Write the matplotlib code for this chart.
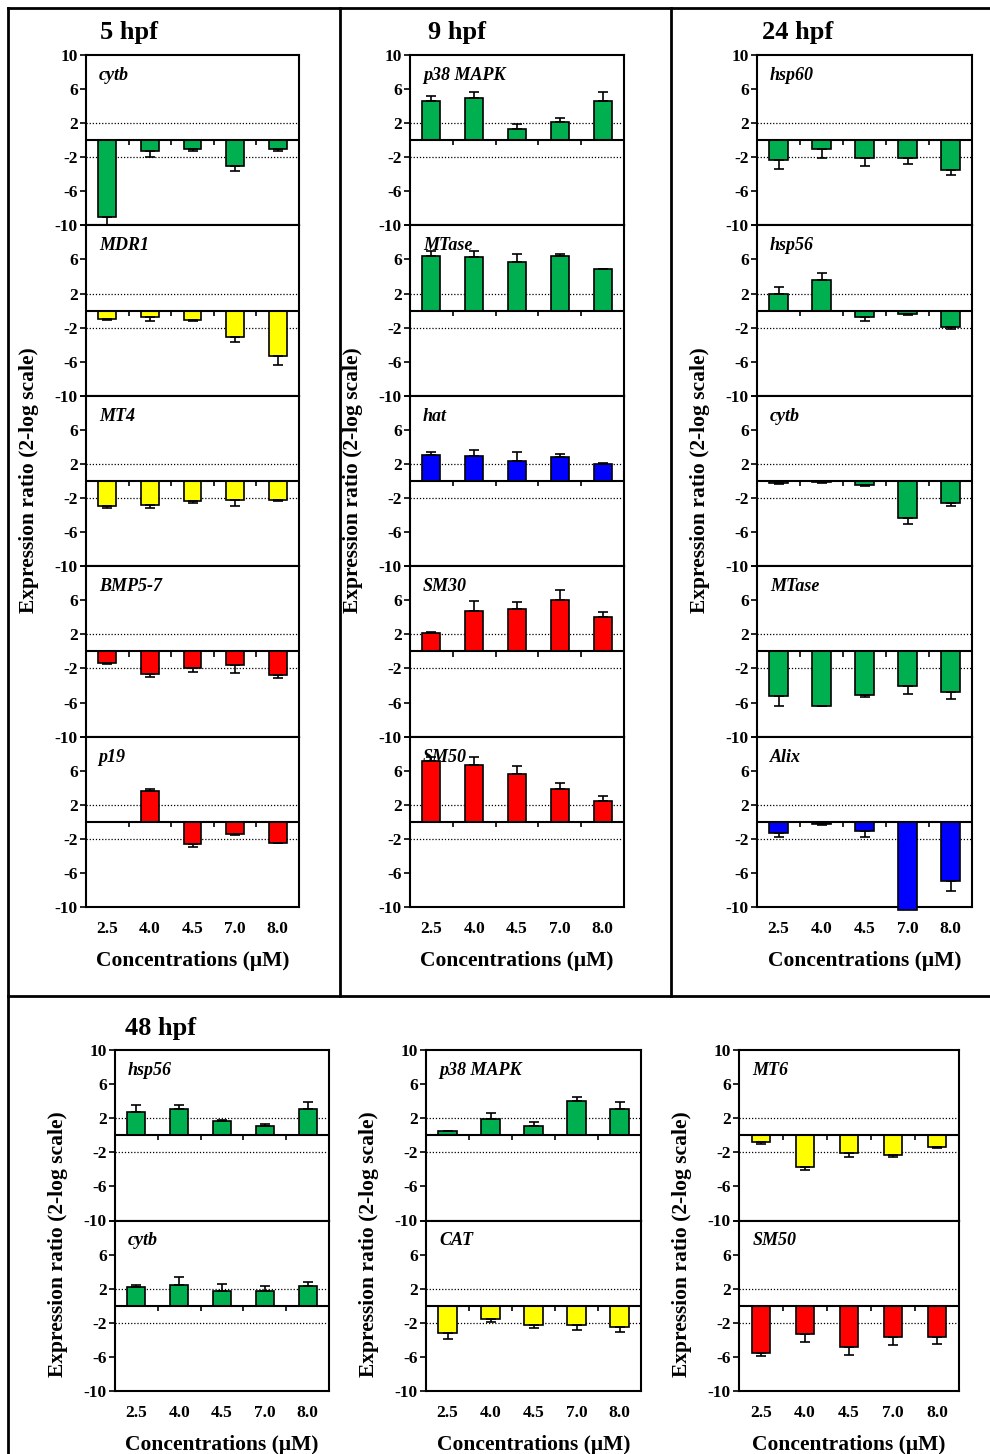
import matplotlib
matplotlib.use('Agg')
import matplotlib.pyplot as plt
from matplotlib.lines import Line2D

plt.rcParams['font.family'] = ['Liberation Serif', 'DejaVu Serif']
plt.rcParams['font.weight'] = 'bold'

conc = ['2.5', '4.0', '4.5', '7.0', '8.0']

GREEN = '#00b050'
YELLOW = '#ffff00'
RED = '#ff0000'
BLUE = '#0000ff'

# 5 hpf
cytb_5 = [-9.0, -1.25, -1.06, -3.0, -1.0]
cytb_5_err = [1.0, 0.7, 0.2, 0.6, 0.3]
mdr1_5 = [-0.95, -0.8, -1.1, -3.1, -5.3]
mdr1_5_err = [0.1, 0.4, 0.1, 0.6, 1.1]
mt4_5 = [-2.9, -2.85, -2.3, -2.25, -2.25]
mt4_5_err = [0.3, 0.3, 0.3, 0.7, 0.05]
bmp_5 = [-1.4, -2.7, -2.0, -1.55, -2.8]
bmp_5_err = [0.05, 0.3, 0.45, 1.0, 0.3]
p19_5 = [0.0, 3.6, -2.6, -1.45, -2.45]
p19_5_err = [0.0, 0.3, 0.4, 0.15, 0.05]

# 9 hpf
p38_9 = [4.6, 4.9, 1.35, 2.1, 4.6]
p38_9_err = [0.6, 0.7, 0.5, 0.45, 1.0]
mtase_9 = [6.45, 6.25, 5.7, 6.4, 4.85]
mtase_9_err = [0.5, 0.7, 0.9, 0.25, 0.05]
hat_9 = [3.0, 2.9, 2.4, 2.85, 2.05]
hat_9_err = [0.45, 0.7, 0.95, 0.3, 0.05]
sm30_9 = [2.15, 4.7, 5.0, 6.0, 4.05]
sm30_9_err = [0.15, 1.2, 0.8, 1.2, 0.6]
sm50_9 = [7.1, 6.7, 5.6, 3.9, 2.5]
sm50_9_err = [0.55, 0.9, 1.0, 0.7, 0.55]

# 24 hpf
hsp60_24 = [-2.35, -1.05, -2.1, -2.1, -3.5]
hsp60_24_err = [1.0, 1.05, 0.9, 0.75, 0.55]
hsp56_24 = [1.9, 3.65, -0.75, -0.45, -1.95]
hsp56_24_err = [0.85, 0.75, 0.45, 0.05, 0.2]
cytb_24 = [-0.25, -0.15, -0.5, -4.3, -2.6]
cytb_24_err = [0.15, 0.03, 0.05, 0.7, 0.35]
mtase_24 = [-5.2, -6.35, -5.1, -4.05, -4.8]
mtase_24_err = [1.15, 0.05, 0.3, 0.9, 0.75]
alix_24 = [-1.3, -0.3, -1.05, -10.3, -6.95]
alix_24_err = [0.5, 0.05, 0.75, 0.0, 1.2]

# 48 hpf
hsp56_48 = [2.7, 3.05, 1.65, 1.1, 3.1]
hsp56_48_err = [0.8, 0.55, 0.12, 0.27, 0.8]
cytb_48 = [2.15, 2.4, 1.75, 1.75, 2.35]
cytb_48_err = [0.27, 0.95, 0.85, 0.55, 0.47]
p38_48 = [0.5, 1.95, 1.05, 4.0, 3.05]
p38_48_err = [0.0, 0.7, 0.55, 0.5, 0.8]
cat_48 = [-3.2, -1.6, -2.25, -2.2, -2.45]
cat_48_err = [0.7, 0.3, 0.35, 0.7, 0.6]
mt6_48 = [-0.85, -3.7, -2.05, -2.3, -1.4]
mt6_48_err = [0.2, 0.35, 0.55, 0.2, 0.15]
sm50_48 = [-5.55, -3.35, -4.85, -3.65, -3.65]
sm50_48_err = [0.35, 0.95, 0.9, 1.0, 0.8]

W, H = 990, 1454
fig = plt.figure(figsize=(W / 100, H / 100), dpi=100)


def box(x0, x1, y0, y1):
    return [x0 / W, 1 - y1 / H, (x1 - x0) / W, (y1 - y0) / H]


def draw_panel(ax, gene, vals, errs, color, first, last):
    x = list(range(len(conc)))
    lo = [e if v < 0 else 0 for v, e in zip(vals, errs)]
    hi = [e if v > 0 else 0 for v, e in zip(vals, errs)]
    ax.bar(x, vals, width=0.42, color=color, edgecolor='black',
           linewidth=1.2, zorder=3, clip_on=False)
    shown = [i for i, v in enumerate(vals) if v != 0 and v > -10]
    ax.errorbar([x[i] for i in shown], [vals[i] for i in shown],
                yerr=[[lo[i] for i in shown], [hi[i] for i in shown]],
                fmt='none', ecolor='black', elinewidth=1.2, capsize=3.5,
                capthick=1.2, zorder=4)
    ax.axhline(0, color='black', lw=1.5, zorder=5)
    for y in (2, -2):
        ax.axhline(y, color='black', lw=0.9, ls=(0, (1, 1.5)), zorder=2)
    ax.vlines([i + 0.5 for i in x[:-1]], -0.6, 0, color='black', lw=1.2, zorder=5)
    ax.set_xlim(-0.5, len(conc) - 0.5)
    ax.set_ylim(-10, 10)
    ax.set_yticks([-10, -6, -2, 2, 6, 10])
    ylabels = ['-10', '-6', '-2', '2', '6', '10' if first else '']
    ax.set_yticklabels(ylabels, fontsize=12.5, fontweight='bold')
    ax.tick_params(axis='y', direction='out', length=4, width=1.2, pad=2)
    ax.set_xticks(x)
    if last:
        ax.set_xticklabels(conc, fontsize=12.5, fontweight='bold')
        ax.tick_params(axis='x', length=0, pad=10)
    else:
        ax.set_xticklabels([])
        ax.tick_params(axis='x', length=0)
    for s in ax.spines.values():
        s.set_linewidth(1.5)
    ax.text(0.06, 0.88, gene, transform=ax.transAxes, fontsize=13,
            fontweight='bold', fontstyle='italic', va='center', ha='left')


top_cols = [
    ('5 hpf', 86, 299, 100, [
        ('cytb', cytb_5, cytb_5_err, GREEN),
        ('MDR1', mdr1_5, mdr1_5_err, YELLOW),
        ('MT4', mt4_5, mt4_5_err, YELLOW),
        ('BMP5-7', bmp_5, bmp_5_err, RED),
        ('p19', p19_5, p19_5_err, RED)]),
    ('9 hpf', 410, 624, 428, [
        ('p38 MAPK', p38_9, p38_9_err, GREEN),
        ('MTase', mtase_9, mtase_9_err, GREEN),
        ('hat', hat_9, hat_9_err, BLUE),
        ('SM30', sm30_9, sm30_9_err, RED),
        ('SM50', sm50_9, sm50_9_err, RED)]),
    ('24 hpf', 757, 972, 762, [
        ('hsp60', hsp60_24, hsp60_24_err, GREEN),
        ('hsp56', hsp56_24, hsp56_24_err, GREEN),
        ('cytb', cytb_24, cytb_24_err, GREEN),
        ('MTase', mtase_24, mtase_24_err, GREEN),
        ('Alix', alix_24, alix_24_err, BLUE)]),
]

bottom_cols = [
    ('48 hpf', 115, 329, 125, [
        ('hsp56', hsp56_48, hsp56_48_err, GREEN),
        ('cytb', cytb_48, cytb_48_err, GREEN)]),
    (None, 426, 641, None, [
        ('p38 MAPK', p38_48, p38_48_err, GREEN),
        ('CAT', cat_48, cat_48_err, YELLOW)]),
    (None, 739, 959, None, [
        ('MT6', mt6_48, mt6_48_err, YELLOW),
        ('SM50', sm50_48, sm50_48_err, RED)]),
]


def draw_column(title, x0, x1, tx, panels, top, ph, title_y, ylab_y):
    n = len(panels)
    for i, (gene, vals, errs, color) in enumerate(panels):
        ax = fig.add_axes(box(x0, x1, top + i * ph, top + (i + 1) * ph))
        draw_panel(ax, gene, vals, errs, color, i == 0, i == n - 1)
        if i == n - 1:
            ax.set_xlabel('Concentrations (\u03bcM)', fontsize=15.5,
                          fontweight='bold', labelpad=10)
    if title:
        fig.text(tx / W, 1 - title_y / H, title, fontsize=19,
                 fontweight='bold', ha='left', va='center')
    fig.text((x0 - 57) / W, 1 - ylab_y / H, 'Expression ratio (2-log scale)',
             rotation=90, fontsize=15.5, fontweight='bold',
             ha='center', va='center')


for title, x0, x1, tx, panels in top_cols:
    draw_column(title, x0, x1, tx, panels, 55, 170.4, 32, 480)

for title, x0, x1, tx, panels in bottom_cols:
    draw_column(title, x0, x1, tx, panels, 1050, 170.5, 1028, 1244)

# frame lines around the panels
frame = [
    ((8, 8), (990, 8)),
    ((8, 8), (8, 1454)),
    ((8, 996), (990, 996)),
    ((340, 8), (340, 996)),
    ((671, 8), (671, 996)),
]
for (xa, ya), (xb, yb) in frame:
    fig.add_artist(Line2D([xa / W, xb / W], [1 - ya / H, 1 - yb / H],
                          transform=fig.transFigure, color='black', lw=2))

fig.savefig('out.png', dpi=100)
